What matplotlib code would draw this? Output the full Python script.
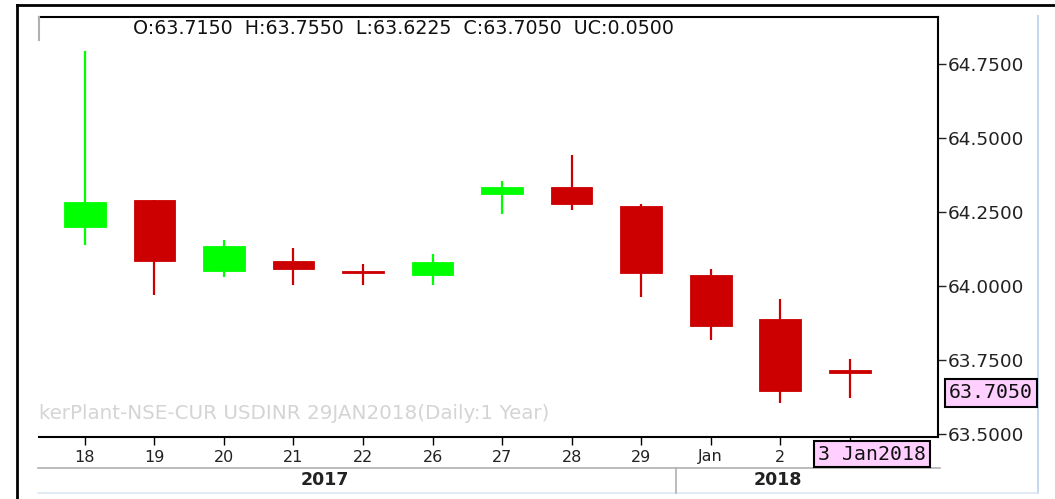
import matplotlib
matplotlib.use("Agg")
import matplotlib.pyplot as plt
from matplotlib.lines import Line2D
from matplotlib.ticker import FormatStrFormatter
import numpy as np

# ---- data ----
days = ['18', '19', '20', '21', '22', '26', '27', '28', '29', 'Jan', '2', '3']
opens = [64.198, 64.290, 64.052, 64.083, 64.050, 64.038, 64.311, 64.336, 64.269, 64.037, 63.890, 63.715]
highs = [64.795, 64.290, 64.156, 64.130, 64.075, 64.108, 64.355, 64.443, 64.276, 64.056, 63.956, 63.755]
lows = [64.139, 63.970, 64.030, 64.004, 64.004, 64.004, 64.244, 64.257, 63.964, 63.818, 63.605, 63.6225]
closes = [64.283, 64.085, 64.136, 64.057, 64.045, 64.082, 64.336, 64.277, 64.044, 63.864, 63.644, 63.705]
yticks = [63.5, 63.75, 64.0, 64.25, 64.5, 64.75]
years = ['2017', '2018']
header = "O:63.7150  H:63.7550  L:63.6225  C:63.7050  UC:0.0500"
watermark = "kerPlant-NSE-CUR USDINR 29JAN2018(Daily:1 Year)"
last_label = "63.7050"
date_label = "3 Jan2018"

W, H = 1055, 499
fig = plt.figure(figsize=(W / 100, H / 100), dpi=100)
fig.patch.set_facecolor('white')
plt.rcParams['font.family'] = ['DejaVu Sans']

def fx(px):
    return px / W

def fy(py):
    return 1 - py / H

L, R, T, B = 39, 938, 17, 437
ax = fig.add_axes([fx(L), fy(B), fx(R) - fx(L), fy(T) - fy(B)])
ax.set_facecolor('white')

GREEN = '#00ff00'
RED = '#cc0000'
x = np.arange(len(days))
for i in range(len(days)):
    o, h, l, c = opens[i], highs[i], lows[i], closes[i]
    col = GREEN if c >= o else RED
    ax.vlines(x[i], l, h, color=col, lw=1.6, zorder=2)
    ax.bar(x[i], abs(c - o), bottom=min(o, c), width=0.6, color=col,
           edgecolor=col, linewidth=0.6, zorder=3)

ax.set_xlim(-0.66, 12.27)
ax.set_ylim(63.490, 64.909)

ax.yaxis.tick_right()
ax.set_yticks(yticks)
ax.yaxis.set_major_formatter(FormatStrFormatter('%.4f'))
ax.tick_params(axis='y', direction='out', length=6, width=1, pad=1,
               labelsize=13.3, labelcolor='#222222', colors='#222222')
ax.set_xticks(x)
ax.set_xticklabels(days[:-1] + [''])
ax.tick_params(axis='x', direction='out', length=6, width=1, pad=3,
               labelsize=11.5, labelcolor='#222222')

for s in ['top', 'right', 'bottom']:
    ax.spines[s].set_color('black')
    ax.spines[s].set_linewidth(1.5)
ax.spines['left'].set_visible(False)

# watermark
ax.text(0.0, 63.57, watermark, transform=ax.get_yaxis_transform(),
        ha='left', va='center', fontsize=14.3, color='#d4d4d4', zorder=1)

# header
fig.text(fx(133), fy(28), header, ha='left', va='center', fontsize=13.7, color='#111111')

# frame lines
def fline(x0, y0, x1, y1, color, lw):
    fig.add_artist(Line2D([fx(x0), fx(x1)], [fy(y0), fy(y1)], color=color, lw=lw,
                          transform=fig.transFigure))

fline(17, 5, 1055, 5, 'black', 2)
fline(17, 5, 17, 499, 'black', 2)
fline(39, 17, 39, 40, '#b0b0b0', 1.5)
fline(1038, 16, 1038, 493, '#c8d8ec', 1.5)
fline(38, 468, 940, 468, '#b0b0b0', 1.2)
fline(38, 493, 1038, 493, '#dde6f2', 1.2)
fline(676, 468, 676, 493, '#b0b0b0', 1.2)

# year labels
fig.text(fx(325), fy(480), years[0], ha='center', va='center', fontsize=12.5,
         fontweight='bold', color='#222222')
fig.text(fx(778), fy(480), years[1], ha='center', va='center', fontsize=12.5,
         fontweight='bold', color='#222222')

# pink boxes
PINK = '#ffd0ff'
fig.text(fx(991), fy(393), last_label, ha='center', va='center', fontsize=14.3,
         family='DejaVu Sans Mono', color='#111111',
         bbox=dict(boxstyle='square,pad=0.22', facecolor=PINK, edgecolor='black', lw=1.5))
fig.text(fx(872), fy(454), date_label, ha='center', va='center', fontsize=14.3,
         family='DejaVu Sans Mono', color='#111111',
         bbox=dict(boxstyle='square,pad=0.2', facecolor=PINK, edgecolor='black', lw=1.5))

fig.savefig('out.png', dpi=100, facecolor='white')
